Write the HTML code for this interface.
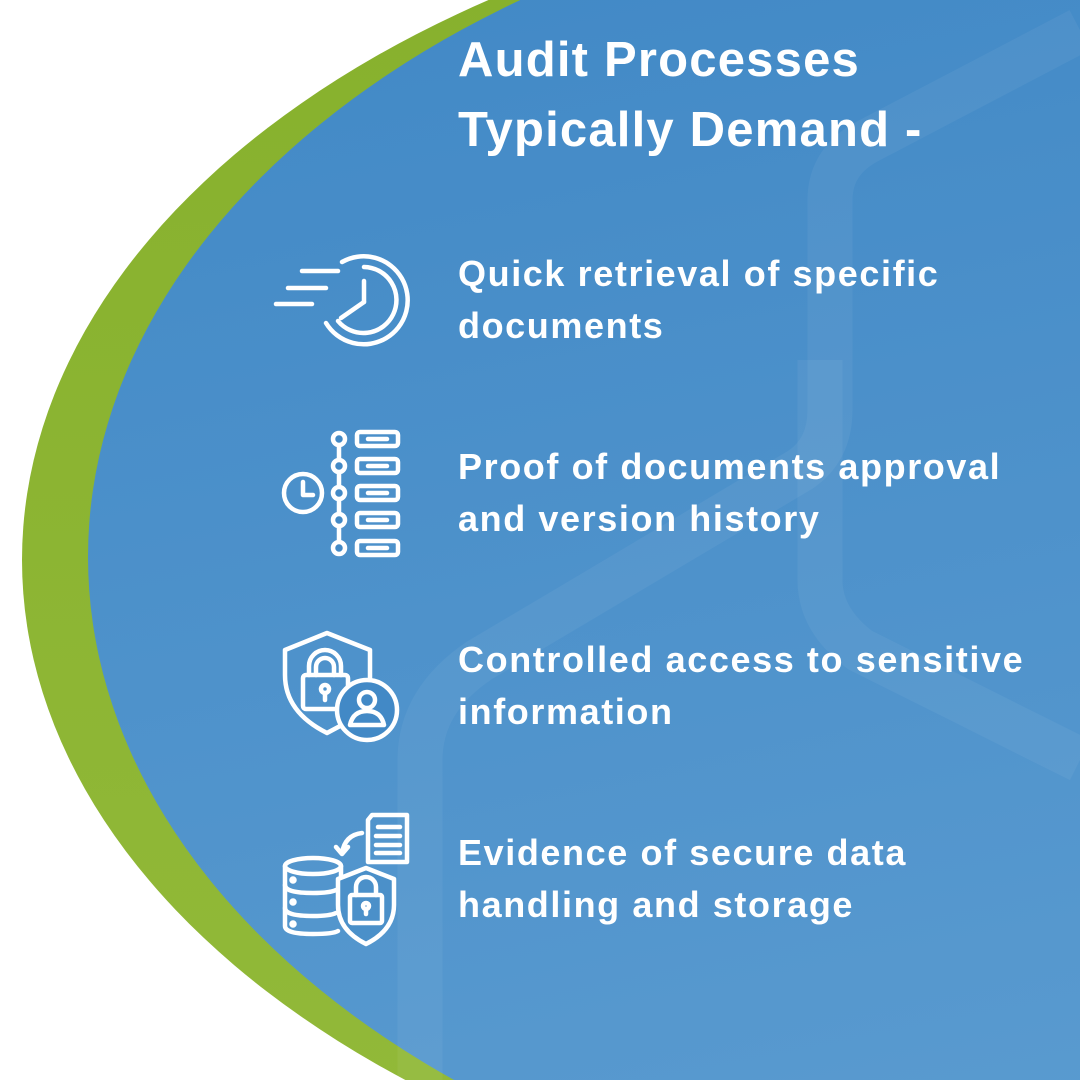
<!DOCTYPE html>
<html><head><meta charset="utf-8"><style>
html,body{margin:0;width:1080px;height:1080px;overflow:hidden}
body{background:#fff;position:relative;font-family:"Liberation Sans",sans-serif}
svg{position:absolute;left:0;top:0}
.t{position:absolute;left:458px;color:#fff;font-weight:bold;white-space:nowrap}
.h{font-size:49px;line-height:70px;top:25px;letter-spacing:1.2px}
.i{font-size:36px;line-height:52px;letter-spacing:1.6px}
</style></head><body>
<svg width="1080" height="1080" viewBox="0 0 1080 1080">
<defs>
<linearGradient id="b" x1="0" y1="0" x2="0.3" y2="1">
<stop offset="0" stop-color="#3f87c5"/><stop offset="1" stop-color="#5a9bd0"/></linearGradient>
<linearGradient id="g" x1="0" y1="0" x2="0" y2="1">
<stop offset="0" stop-color="#86b02c"/><stop offset="1" stop-color="#93ba3a"/></linearGradient>
</defs>
<ellipse cx="1100" cy="560" rx="1078" ry="680" fill="url(#g)"/>
<ellipse cx="1110" cy="557" rx="1022" ry="682" fill="url(#b)"/>
<g fill="none" stroke="#ffffff" stroke-opacity="0.05" stroke-width="45">
<path d="M420 1080 V760 Q420 700 480 660 L800 470 Q830 450 830 410 V200 Q830 160 870 140 L1080 30"/>
<path d="M820 360 V580 Q820 620 860 650 L1080 760"/>
</g>
<g fill="none" stroke="#fff" stroke-width="4.5" stroke-linecap="round" stroke-linejoin="round">
<path d="M342 262 A44 44 0 1 1 326 323"/>
<path d="M364 267 A33 33 0 1 1 338 321"/>
<line x1="364" y1="281" x2="364" y2="302"/><line x1="364" y1="302" x2="341" y2="318"/>
<line x1="302" y1="271" x2="338" y2="271"/><line x1="288" y1="288" x2="326" y2="288"/><line x1="276" y1="304" x2="312" y2="304"/>
<circle cx="303" cy="493" r="19"/><polyline points="303,482 303,495 313,495"/>
<line x1="339" y1="445" x2="339" y2="543"/>
<g fill="#4289c6"><circle cx="339" cy="439" r="6"/><circle cx="339" cy="466" r="6"/><circle cx="339" cy="493" r="6"/><circle cx="339" cy="520" r="6"/><circle cx="339" cy="548" r="6"/></g>
<rect x="357" y="432" width="41" height="14" rx="3"/><rect x="357" y="459" width="41" height="14" rx="3"/><rect x="357" y="486" width="41" height="14" rx="3"/><rect x="357" y="513" width="41" height="14" rx="3"/><rect x="357" y="541" width="41" height="14" rx="3"/>
<line x1="368" y1="439" x2="387" y2="439"/><line x1="368" y1="466" x2="387" y2="466"/><line x1="368" y1="493" x2="387" y2="493"/><line x1="368" y1="520" x2="387" y2="520"/><line x1="368" y1="548" x2="387" y2="548"/>
<path d="M370 682 V650 L327 633 L285 650 V675 Q285 712 327 733 L342 725"/>
<rect x="303" y="675" width="45" height="34" rx="3"/>
<path d="M309 675 V666 A16 16 0 0 1 341 666 V675"/><path d="M316 675 V667 A9 9 0 0 1 334 667 V675"/>
<circle cx="325" cy="689" r="4"/><line x1="325" y1="693" x2="325" y2="700"/>
<circle cx="367" cy="710" r="30" fill="#4289c6"/>
<circle cx="367" cy="700" r="8"/><path d="M350 725 Q353 711 367 711 Q381 711 384 725 Z"/>
<ellipse cx="313" cy="866" rx="28" ry="8"/>
<path d="M285 866 V926 Q285 934 313 934 Q333 934 338 931"/>
<path d="M285 885 Q285 893 313 893 Q330 893 336 890 M285 908 Q285 916 313 916 Q330 916 336 913 M341 866 V878"/>
<circle cx="293" cy="880" r="1.5" fill="#fff"/><circle cx="293" cy="902" r="1.5" fill="#fff"/><circle cx="293" cy="924" r="1.5" fill="#fff"/>
<path d="M394 879 V905 Q394 930 366 944 Q338 930 338 905 V879 L366 868 Z" fill="#4b90c9"/>
<rect x="350" y="895" width="32" height="28" rx="2"/><path d="M356 895 V887 A10 10 0 0 1 376 887 V895"/>
<circle cx="366" cy="906" r="3"/><line x1="366" y1="909" x2="366" y2="914"/>
<path d="M372 815 H407 V862 H368 V820 Z"/>
<line x1="378" y1="827" x2="400" y2="827"/><line x1="376" y1="836" x2="400" y2="836"/><line x1="376" y1="845" x2="400" y2="845"/><line x1="376" y1="853" x2="400" y2="853"/>
<path d="M362 833 Q345 835 342 853"/><polyline points="336,847 342,854 348,847"/>
</g>
</svg>
<div class="t h">Audit Processes<br>Typically Demand -</div>
<div class="t i" style="top:248px">Quick retrieval of specific<br>documents</div>
<div class="t i" style="top:441px">Proof of documents approval<br>and version history</div>
<div class="t i" style="top:634px">Controlled access to sensitive<br>information</div>
<div class="t i" style="top:827px">Evidence of secure data<br>handling and storage</div>
</body></html>
